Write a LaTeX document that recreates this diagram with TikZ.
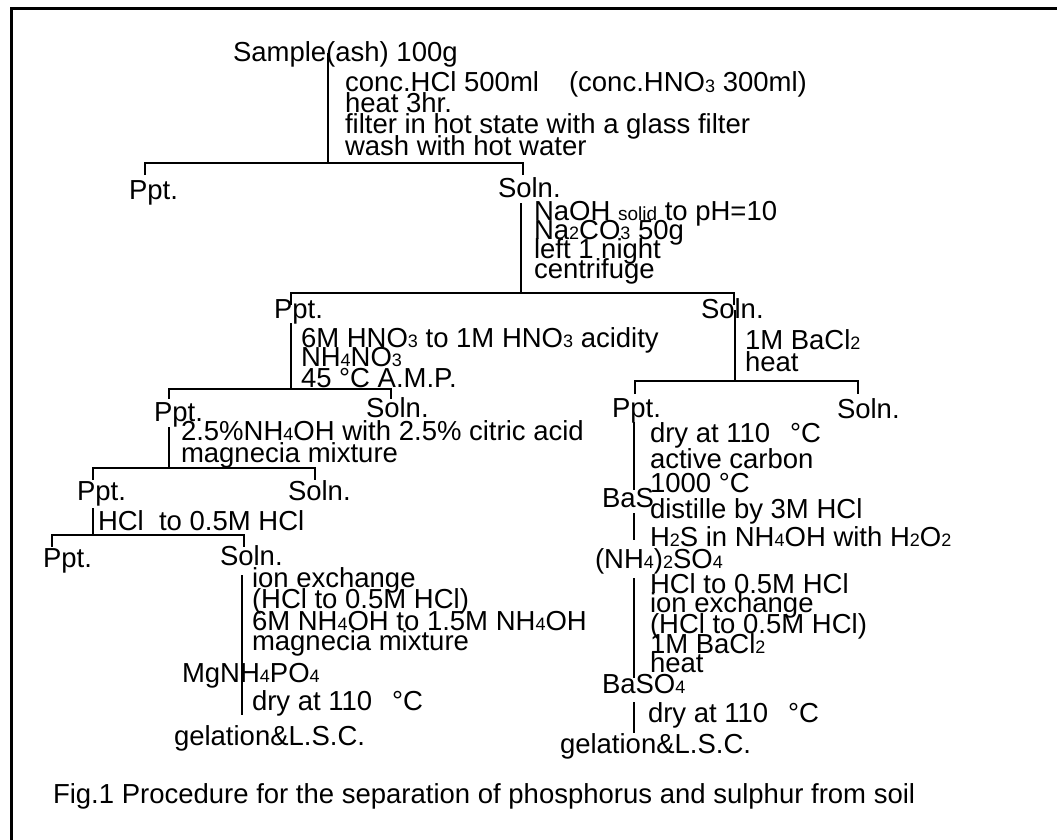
\documentclass[tikz,border=0pt]{standalone}
\usepackage{fontspec}
\setmainfont{Liberation Sans}
\newcommand{\sbs}[1]{\raisebox{-0.8pt}{\fontsize{18}{18}\selectfont #1}}
\newcommand{\smtxt}[1]{{\fontsize{19}{19}\selectfont #1}}
\newcommand{\fsz}{\fontsize{27.5}{20}\selectfont}
\newcommand{\mkstem}[4]{\coordinate (#1a) at (#2,#3); \coordinate (#1b) at (#2,#4); \draw[tl] (#1a)--(#1b);}
\newcommand{\mkfork}[5]{\coordinate (#1L) at (#2,#5); \coordinate (#1l) at (#2,#4); \coordinate (#1r) at (#3,#4); \coordinate (#1R) at (#3,#5); \draw[tl] (#1L)--(#1l)--(#1r)--(#1R);}
\begin{document}
\begin{tikzpicture}[x=1pt,y=-1pt,
  lbl/.style={anchor=base west, inner sep=0pt, outer sep=0pt, font=\fsz},
  tl/.style={line width=2pt, line cap=butt, line join=miter},
  fr/.style={line width=3pt}]
\useasboundingbox (0,0) rectangle (1057,840);
% frame
\coordinate (fa) at (11,840); \coordinate (fb) at (11,9); \coordinate (fc) at (1057,9);
\draw[fr] (fa)--(fb)--(fc);
% tree lines
\mkstem{sa}{328}{53}{163}
\mkfork{fa}{145}{523}{163}{175}
\mkstem{sb}{521}{203}{293}
\mkfork{fb}{291}{734}{293}{305}
\mkstem{sc}{291}{323}{389}
\mkfork{fc}{169}{391}{389}{399}
\mkstem{sd}{735}{310}{381}
\mkfork{fd}{635}{858}{381}{394}
\mkstem{se}{169}{427}{468}
\mkfork{fe}{93}{315}{468}{480}
\mkstem{sf}{93}{508}{535}
\mkfork{ff}{52}{244}{535}{547}
\mkstem{sg}{242}{575}{715}
\mkstem{sh}{634}{422}{490}
\mkstem{si}{634}{513}{540}
\mkstem{sj}{634}{578}{678}
\mkstem{sk}{634}{702}{733}
% level 0
\node[lbl] (t0) at (233,62) {Sample(ash) 100g};
\node[lbl] (t0a) at (345,92) {conc.HCl 500ml\hspace{30pt}(conc.HNO\sbs{3} 300ml)};
\node[lbl] (t0b) at (345,113) {heat 3hr.};
\node[lbl] (t0c) at (345,133) {filter in hot state with a glass filter};
\node[lbl] (t0d) at (345,155) {wash with hot water};
\node[lbl] (p1) at (129,199) {Ppt.};
\node[lbl] (q1) at (498,197) {Soln.};
% level 1
\node[lbl] (t1a) at (534,220) {NaOH \smtxt{solid} to pH=10};
\node[lbl] (t1b) at (534,239) {Na\sbs{2}CO\sbs{3} 50g};
\node[lbl] (t1c) at (534,258) {left 1 night};
\node[lbl] (t1d) at (534,278) {centrifuge};
\node[lbl] (p2) at (274,318) {Ppt.};
\node[lbl] (q2) at (701,318) {Soln.};
% level 2 left
\node[lbl] (t2a) at (301,347) {6M HNO\sbs{3} to 1M HNO\sbs{3} acidity};
\node[lbl] (t2b) at (301,366) {NH\sbs{4}NO\sbs{3}};
\node[lbl] (t2c) at (301,387) {45 °C A.M.P.};
\node[lbl] (p3) at (154,421) {Ppt.};
\node[lbl] (q3) at (366,417) {Soln.};
% level 2 right
\node[lbl] (t3a) at (745,349) {1M BaCl\sbs{2}};
\node[lbl] (t3b) at (745,371) {heat};
\node[lbl] (p4) at (612,417) {Ppt.};
\node[lbl] (q4) at (837,418) {Soln.};
% level 3 left
\node[lbl] (t4a) at (181,440) {2.5\%NH\sbs{4}OH with 2.5\% citric acid};
\node[lbl] (t4b) at (181,462) {magnecia mixture};
\node[lbl] (p5) at (77,500) {Ppt.};
\node[lbl] (q5) at (288,500) {Soln.};
% level 4 left
\node[lbl] (t5a) at (98,530) {HCl\ \ to 0.5M HCl};
\node[lbl] (p6) at (43,567) {Ppt.};
\node[lbl] (q6) at (220,565) {Soln.};
% level 5 left
\node[lbl] (t6a) at (252,587) {ion exchange};
\node[lbl] (t6b) at (252,608) {(HCl to 0.5M HCl)};
\node[lbl] (t6c) at (252,630) {6M NH\sbs{4}OH to 1.5M NH\sbs{4}OH};
\node[lbl] (t6d) at (252,650) {magnecia mixture};
\node[lbl] (m1) at (182,682) {MgNH\sbs{4}PO\sbs{4}};
\node[lbl] (t6e) at (252,710) {dry at 110\hspace{20pt}°C};
\node[lbl] (g1) at (174,745) {gelation\&L.S.C.};
% right column
\node[lbl] (t7a) at (650,442) {dry at 110\hspace{20pt}°C};
\node[lbl] (t7b) at (650,468) {active carbon};
\node[lbl] (t7c) at (650,492) {1000 °C};
\node[lbl] (m2) at (602,507) {BaS};
\node[lbl] (t7d) at (650,518) {distille by 3M HCl};
\node[lbl] (t7e) at (650,546) {H\sbs{2}S in NH\sbs{4}OH with H\sbs{2}O\sbs{2}};
\node[lbl] (m3) at (595,568) {(NH\sbs{4})\sbs{2}SO\sbs{4}};
\node[lbl] (t7f) at (650,593) {HCl to 0.5M HCl};
\node[lbl] (t7g) at (650,612) {ion exchange};
\node[lbl] (t7h) at (650,633) {(HCl to 0.5M HCl)};
\node[lbl] (t7i) at (650,653) {1M BaCl\sbs{2}};
\node[lbl] (t7j) at (650,672) {heat};
\node[lbl] (m4) at (602,693) {BaSO\sbs{4}};
\node[lbl] (t7k) at (648,722) {dry at 110\hspace{20pt}°C};
\node[lbl] (g2) at (560,753) {gelation\&L.S.C.};
% caption
\node[lbl] (cap) at (53,803) {Fig.1 Procedure for the separation of phosphorus and sulphur from soil};
\end{tikzpicture}
\end{document}
